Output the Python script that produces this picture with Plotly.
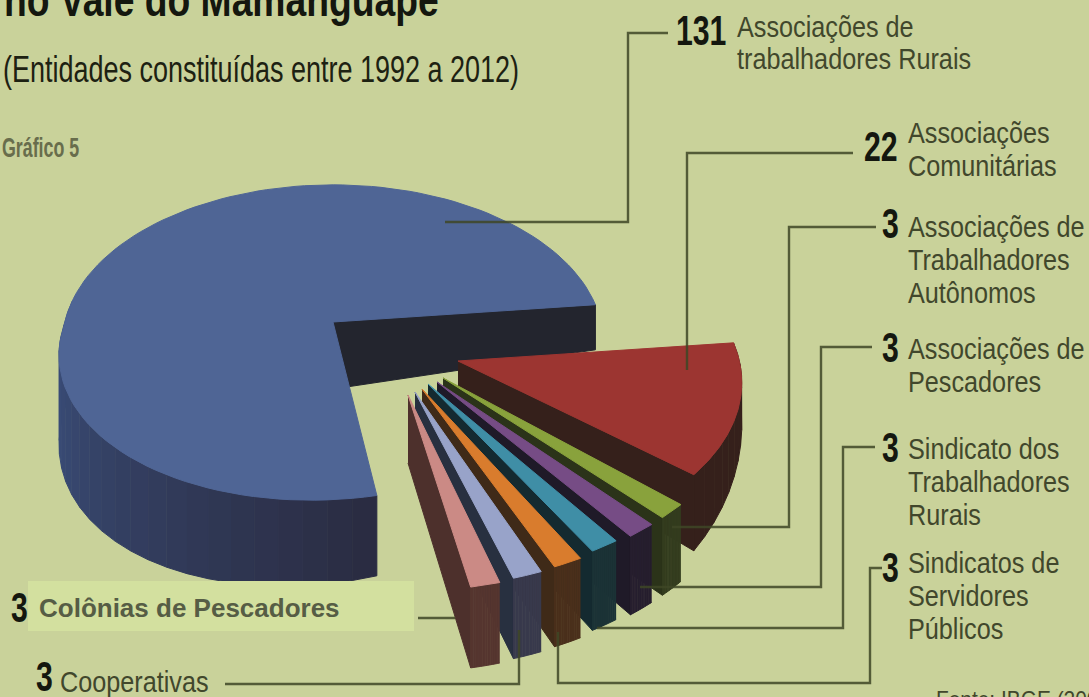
import json

import numpy as np
import plotly.graph_objects as go

# Dados do grafico
categorias = [
    "Associações de trabalhadores Rurais",
    "Associações Comunitárias",
    "Associações de Trabalhadores Autônomos",
    "Associações de Pescadores",
    "Sindicato dos Trabalhadores Rurais",
    "Sindicatos de Servidores Públicos",
    "Cooperativas",
    "Colônias de Pescadores",
]
valores = [131, 22, 3, 3, 3, 3, 3, 3]

rotulos_direita = [
    ["Associações de", "trabalhadores Rurais"],
    ["Associações", "Comunitárias"],
    ["Associações de", "Trabalhadores", "Autônomos"],
    ["Associações de", "Pescadores"],
    ["Sindicato dos", "Trabalhadores", "Rurais"],
    ["Sindicatos de", "Servidores", "Públicos"],
]

cores_topo = ["#4f6595", "#9c3531", "#89a23c", "#764c85", "#3f8ea6", "#d97c2d", "#98a3c9", "#cb8a85"]
cores_frente = ["#2a2b40", "#35201b", "#333c1e", "#261e2e", "#1b3236", "#4a2f1b", "#38394c", "#55352f"]
cores_lado = ["#23252e", "#35201b", "#2b3319", "#1f1a28", "#142a30", "#3f2a18", "#283040", "#4d302c"]

# Geometria da projecao
FUNDO = "#c9d29a"
ANGULO_INICIAL = 6.5
DESVIO_PEQUENAS = -2.8
FOLGA_PEQUENAS = 1.2
RX, RY, K = 268.0, 155.0, 0.13
ANCORAS = [(333, 322), (458, 361), (443, 378), (437, 382), (428, 384), (422, 389), (415, 392), (408, 395)]
ESCALAS = [1.0, 1.05, 1.1, 1.1, 1.1, 1.1, 1.1, 1.1]
CISALHAMENTO = [22, 0, 0, 0, 0, 0, 0, 0]
PROFUNDIDADES = [(67, -20, 18), (50, -16, 60)] + [(68, 0, 13)] * 6


def projeta(teta, i):
    u = np.cos(np.radians(teta))
    v = -np.sin(np.radians(teta))
    s = 1 / (1 - K * v)
    x = ANCORAS[i][0] + RX * ESCALAS[i] * u * s - CISALHAMENTO[i] * np.maximum(v, 0)
    return x, ANCORAS[i][1] + RY * ESCALAS[i] * v * s


def profundidade(teta, pars):
    u = np.cos(np.radians(teta))
    v = -np.sin(np.radians(teta))
    return pars[0] + pars[1] * u + pars[2] * v


def poligono(fig, xs, ys, cor):
    fig.add_trace(go.Scatter(
        x=list(xs), y=list(ys), mode="lines", fill="toself", fillcolor=cor,
        line=dict(color=cor, width=1), hoverinfo="skip", showlegend=False,
    ))


def mistura(c1, c2, t):
    a = [int(c1[i:i + 2], 16) for i in (1, 3, 5)]
    b = [int(c2[i:i + 2], 16) for i in (1, 3, 5)]
    return "rgb({},{},{})".format(*[int(a[i] + (b[i] - a[i]) * t) for i in range(3)])


def fatia(fig, i, t0, t1):
    ancora, pars = ANCORAS[i], PROFUNDIDADES[i]
    # parede radial voltada para o observador
    tr = t0 if i == 0 else t1
    xr, yr = projeta(tr, i)
    dr = profundidade(tr, pars)
    poligono(fig, [ancora[0], xr, xr, ancora[0]], [ancora[1], yr, yr + dr, ancora[1] + pars[0]], cores_lado[i])
    # parede da borda, em tiras
    tetas = np.linspace(t0, t1, 61 if i == 0 else 13)
    for j in range(len(tetas) - 1):
        a, b = tetas[j], tetas[j + 1]
        if i == 0 and a < 170:
            continue
        xa, ya = projeta(a, i)
        xb, yb = projeta(b, i)
        da, db = profundidade(a, pars), profundidade(b, pars)
        if i == 0:
            cor = mistura("#3e5585", cores_frente[0], (a - 170) / (t1 - 170))
        else:
            cor = cores_frente[i]
        poligono(fig, [xa, xb, xb, xa], [ya, yb, yb + db, ya + da], cor)
    # tampa
    xt, yt = projeta(np.linspace(t0, t1, 120), i)
    poligono(fig, [ancora[0], *xt, ancora[0]], [ancora[1], *yt, ancora[1]], cores_topo[i])


fig = go.Figure()

# angulos a partir dos valores
vaos = [360 * v / sum(valores) for v in valores]
fatia(fig, 0, ANGULO_INICIAL, ANGULO_INICIAL + vaos[0])

# demais fatias, de tras para frente
fim = ANGULO_INICIAL
for i in range(1, len(valores)):
    inicio = fim - vaos[i]
    if i > 1:
        fatia(fig, i, fim + DESVIO_PEQUENAS, inicio + DESVIO_PEQUENAS + FOLGA_PEQUENAS)
    else:
        fatia(fig, i, fim, inicio)
    fim = inicio

# Linhas de chamada
chamadas_x = [
    [445, 628, 628, 668],
    [687, 687, 853],
    [672, 789, 789, 876],
    [640, 821, 821, 872],
    [597, 843, 843, 875],
    [558, 558, 870, 870, 882],
    [225, 519, 519],
    [418, 455],
]
chamadas_y = [
    [222, 222, 33, 33],
    [370, 153, 153],
    [527, 527, 227, 227],
    [587, 587, 347, 347],
    [628, 628, 447, 447],
    [632, 683, 683, 568, 568],
    [684, 684, 630],
    [618, 618],
]
for cx, cy in zip(chamadas_x, chamadas_y):
    fig.add_trace(go.Scatter(
        x=cx, y=cy, mode="lines", line=dict(color="rgba(62,70,38,0.85)", width=2.4),
        hoverinfo="skip", showlegend=False,
    ))

FONTE = "Liberation Sans"
PRETO = "#14170f"
TEXTO = "#41472c"
LARGURA = {}


def texto(x, y, s, tam, cor, largura=0.87, negrito=False, yanchor="top"):
    LARGURA[s] = largura
    fig.add_annotation(
        x=x, y=y, text=f"<b>{s}</b>" if negrito else s, showarrow=False, xanchor="left", yanchor=yanchor,
        align="left", font=dict(family=FONTE, size=tam, color=cor),
    )


texto(2, 28, "no Vale do Mamanguape", 46, PRETO, largura=0.81, negrito=True, yanchor="bottom")
texto(1, 47, "(Entidades constituídas entre 1992 a 2012)", 36, "#1d2112", largura=0.75)
texto(0, 131, "Gráfico 5", 27, "#686d4c", largura=0.66, negrito=True)

# numeros e rotulos da direita
pos_num = [(674, 5), (862, 121), (880, 198), (880, 322), (880, 422), (880, 542)]
pos_rot = [(735, 9), (906, 115), (906, 209), (906, 331), (906, 431), (906, 545)]
passo = [32, 33, 33, 33, 33, 33]
for v, linhas, pn, pr, p in zip(valores[:6], rotulos_direita, pos_num, pos_rot, passo):
    texto(pn[0], pn[1], str(v), 42, PRETO, largura=0.72, negrito=True)
    for k, linha in enumerate(linhas):
        texto(pr[0], pr[1] + k * p, linha, 29, TEXTO)

texto(34, 651, str(valores[6]), 42, PRETO, largura=0.72, negrito=True)
texto(58, 664, categorias[6], 29, TEXTO)
texto(9, 582, str(valores[7]), 42, PRETO, largura=0.72, negrito=True)
texto(37, 591, categorias[7], 26, "#565d45", largura=1.0, negrito=True)
texto(934, 684, "Fonte: IBGE (2006)", 24, TEXTO)

fig.update_layout(
    width=1089,
    height=697,
    margin=dict(l=0, r=0, t=0, b=0),
    paper_bgcolor=FUNDO,
    plot_bgcolor=FUNDO,
    showlegend=False,
    xaxis=dict(range=[0, 1089], visible=False, fixedrange=True),
    yaxis=dict(range=[697, 0], visible=False, fixedrange=True),
    shapes=[dict(type="rect", x0=28, x1=414, y0=581, y1=631, fillcolor="#d3e09f",
                 line_width=0, layer="above")],
)

# estreita os textos na horizontal (nao ha fonte condensada instalada)
pos_script = """
document.body.style.margin = '0';
var larguras = %s;
document.querySelectorAll('text.annotation-text').forEach(function (t) {
    var f = larguras[t.textContent];
    if (!f || f === 1) return;
    var x = t.getBBox().x;
    var antes = t.getAttribute('transform') || '';
    t.setAttribute('transform', antes + ' translate(' + x + ',0) scale(' + f + ',1) translate(' + (-x) + ',0)');
});
""" % json.dumps(LARGURA, ensure_ascii=False)

fig.write_html("out.html", post_script=pos_script, config={"displayModeBar": False})
